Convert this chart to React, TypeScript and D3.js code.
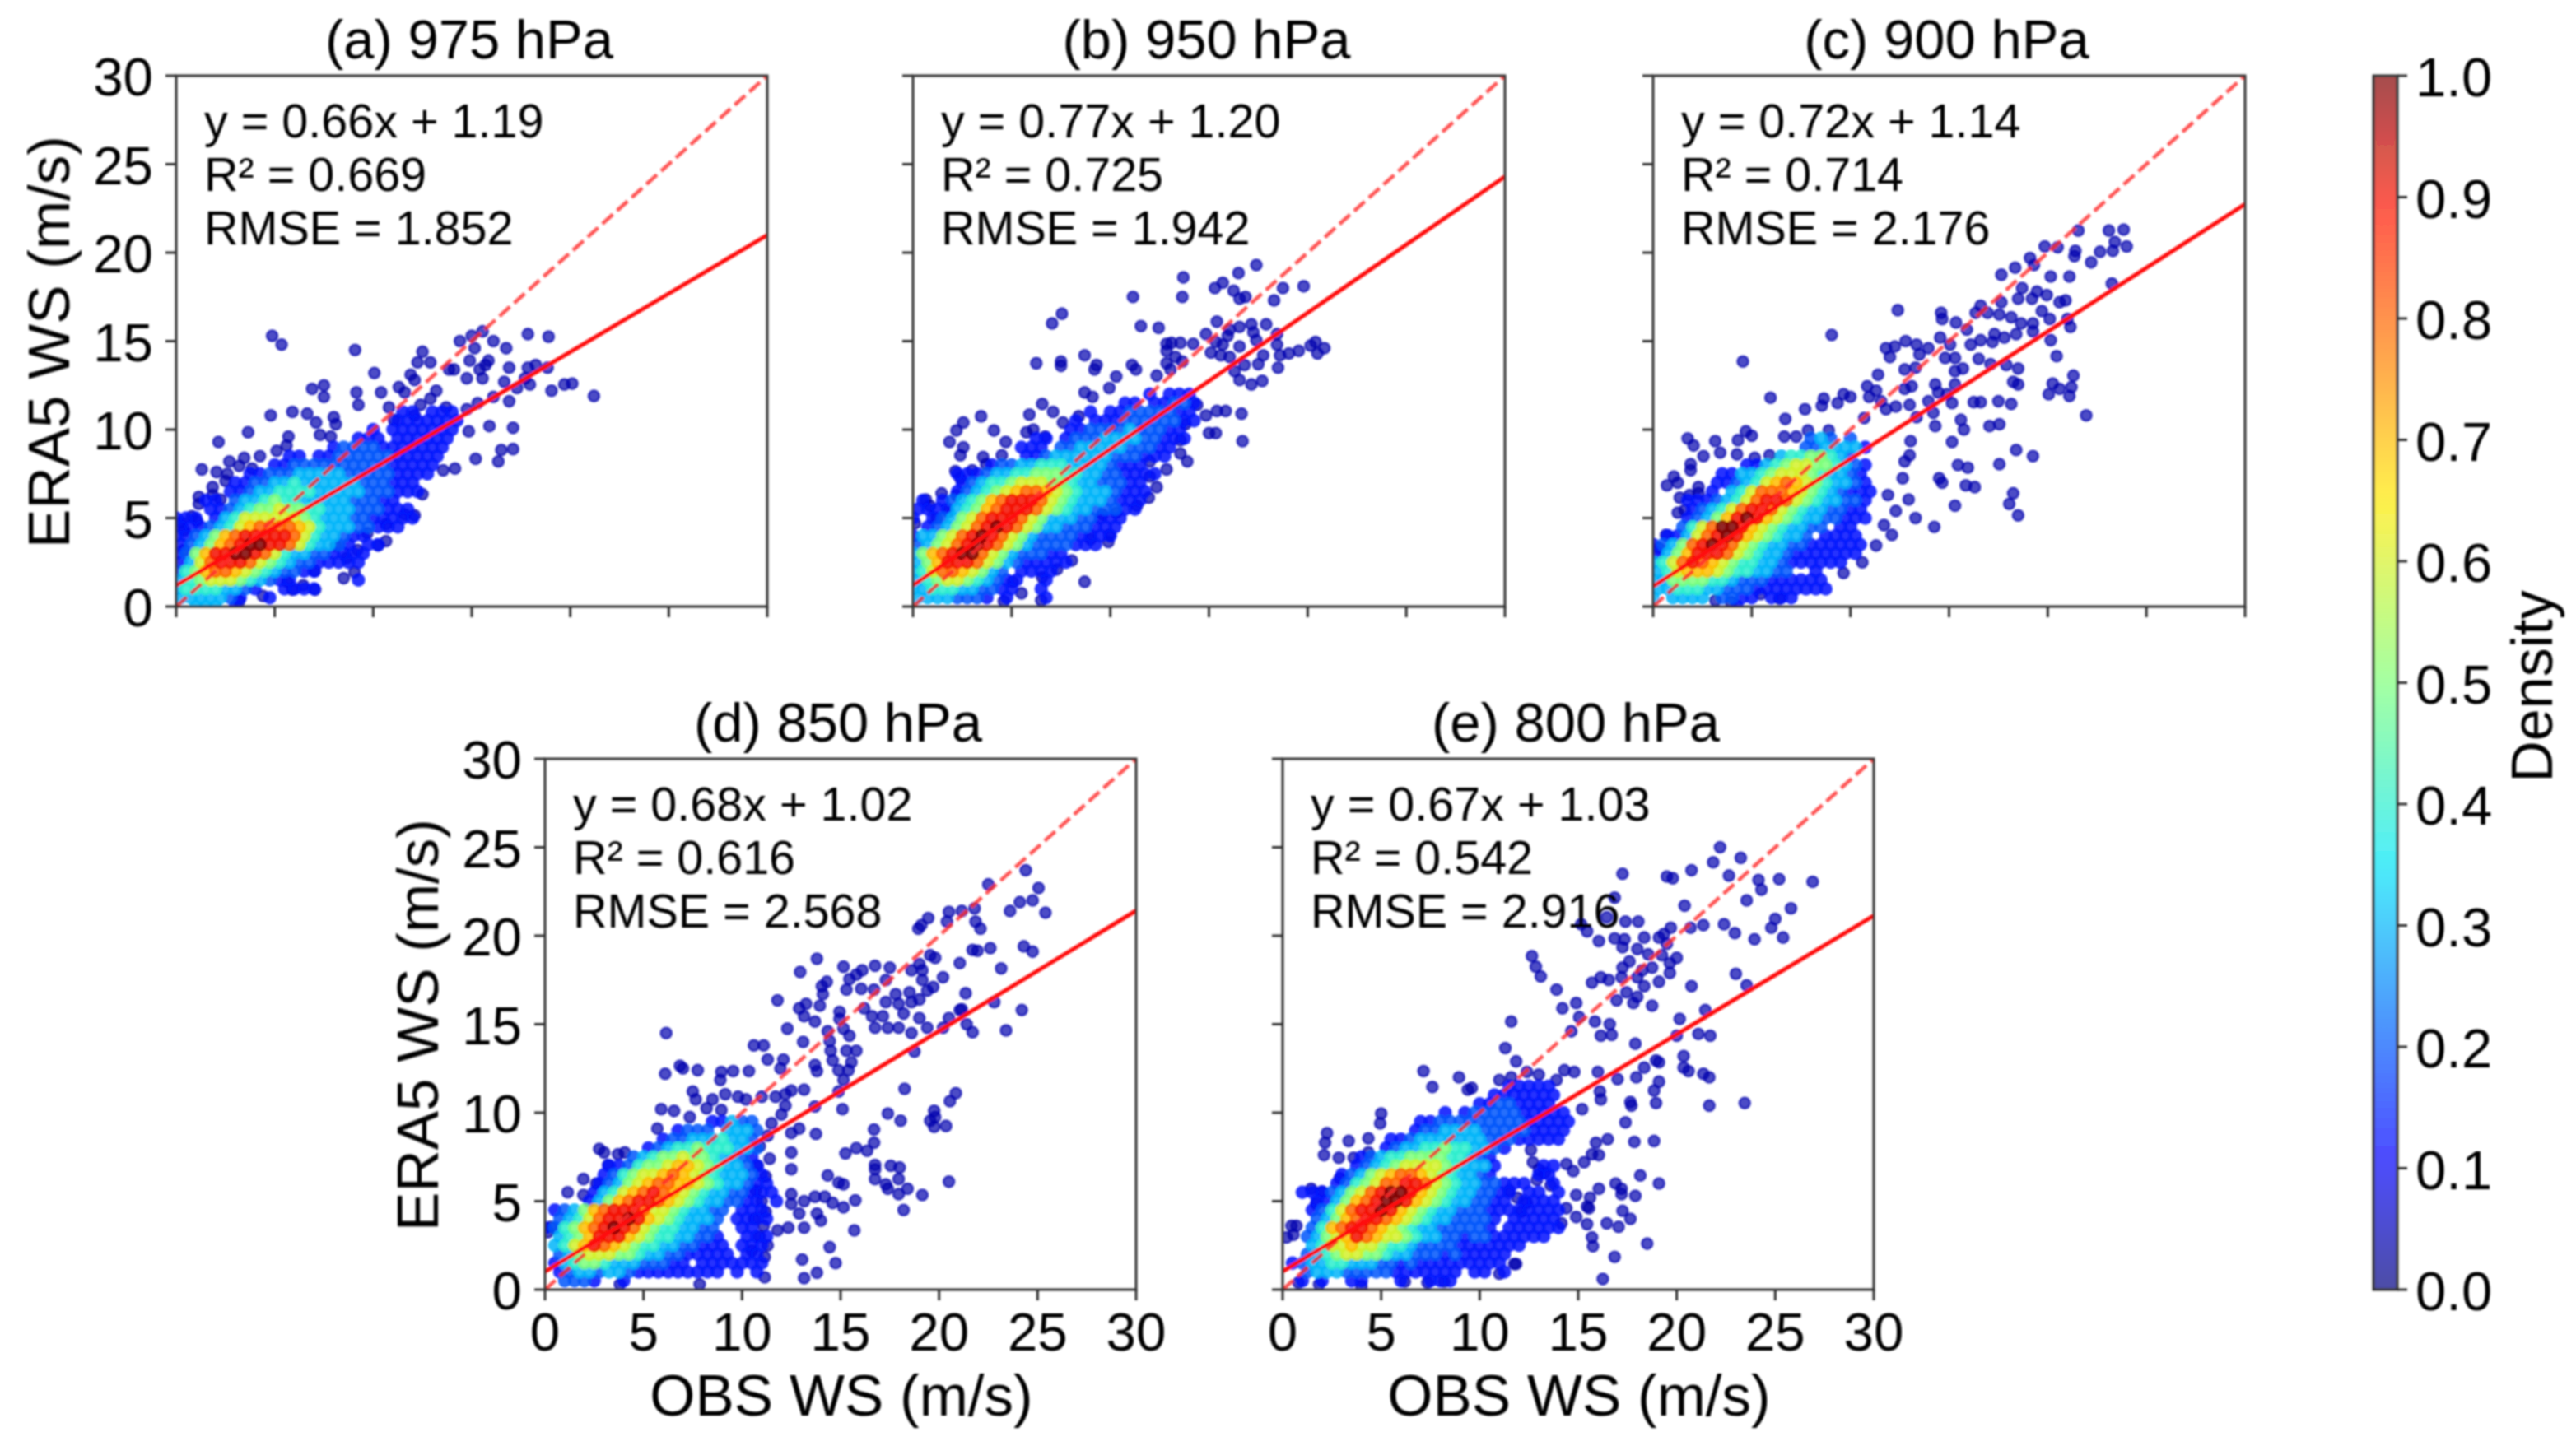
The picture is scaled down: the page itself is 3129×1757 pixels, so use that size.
import React from "react";
import * as d3 from "d3";

// Panel values
const panelLabels = ["(a) 975 hPa", "(b) 950 hPa", "(c) 900 hPa", "(d) 850 hPa", "(e) 800 hPa"];
const slopes = [0.66, 0.77, 0.72, 0.68, 0.67];
const intercepts = [1.19, 1.2, 1.14, 1.02, 1.03];
const r2Labels = ["0.669", "0.725", "0.714", "0.616", "0.542"];
const rmseLabels = ["1.852", "1.942", "2.176", "2.568", "2.916"];
const axisTicks = [0, 5, 10, 15, 20, 25, 30];
const densityTicks = [0, 0.1, 0.2, 0.3, 0.4, 0.5, 0.6, 0.7, 0.8, 0.9, 1];

// Scattered outliers, [obs, era5]
const sparseA = [[4.87,15.3],[5.35,14.8],[9.08,14.5],[10.06,13.2],[6.9,12.3],[7.5,12.5],[7.5,11.85],[9.15,12.1],[9.25,11.4],[10.4,12.1],[4.8,10.8],[5.9,11],[6.65,10.9],[7.1,10.4],[8,10.7],[8.1,10.3],[3.65,9.85],[2.15,9.3],[7.3,9.7],[7.85,9.6],[5.7,9.6],[5.1,8.8],[5.6,9.1],[3.45,8.4],[2.7,8.2],[4.25,8.5],[1.3,7.75],[2.05,7.6],[2.6,7.5],[3.2,7.95],[3.85,7.8],[1.85,6.75],[2.5,7.1],[1.15,6.2],[1.15,5.8],[1.85,6.3],[2.25,6.05],[0.25,4.75],[0.8,5.1],[1.05,4.85],[0.4,4.3],[0.4,3.2],[8.5,1.6],[9.05,1.95],[7.05,0.95],[6.45,1.2],[5.9,0.95],[4.4,0.6],[3.2,0.3],[5.65,1.4],[7.05,2],[8.1,3.45],[8.65,2.75],[9.2,3.2],[10.65,3.7],[10.25,3.45],[9.7,4.15],[12.1,5.15],[11.6,5.2],[10.65,4.65],[12.5,6.35],[13.55,7.7],[14.15,7.8],[15.2,8.35],[16.35,8.2],[16.5,8.85],[17.1,8.9],[14.85,9.9],[15.9,10.2],[17.1,10.1],[16.9,11.6],[19.05,12.2],[19.7,12.55],[20.1,12.6],[21.2,11.9],[18.85,13.5],[18.25,13.65],[17.85,15.4],[18.9,15.25],[16.1,15],[16.75,14.6],[15.55,15.55],[15,15.3],[14.4,15],[15.15,14.6],[12.5,14.4],[12.25,13.8],[12.9,13.8],[14.9,13.9],[15.85,13.9],[13.85,13.4],[14.1,13.4],[11.9,13.1],[12.1,12.8],[11.3,12.4],[11.6,12.1],[14.75,12.9],[15.4,13.4],[15.55,12.9],[15.7,13.65],[16.9,13.5],[17.85,13.5],[17.7,12.9],[17.95,12.55],[17.3,12.35],[16.65,12.7],[16.1,11.85],[15.3,11.5],[14.75,11.15],[13.7,11.25],[13.2,12.2],[12.9,11.75],[12.4,11.4],[10.8,11.25],[11.05,10.55],[12.1,10.8]];
const sparseB = [[17.4,19.3],[16.5,18.85],[13.7,18.6],[15.7,18.3],[15.3,18],[16.25,17.85],[18.75,18],[19.8,18.1],[11.15,17.5],[13.65,17.5],[16.55,17.4],[16.85,17.5],[18.3,17.3],[7.55,16.55],[7.05,16],[11.55,15.85],[12.45,15.75],[15.4,16.1],[16.55,15.8],[17.15,15.95],[17.9,15.95],[16.05,15.65],[14.85,15.4],[12.85,14.85],[13.1,14.9],[13.55,14.9],[14.2,14.85],[12.85,14.45],[13.3,14.1],[13.65,13.85],[12.85,13.75],[13.05,13.4],[15.35,14.95],[15.7,14.8],[15.95,15.3],[15.1,14.35],[15.6,14.2],[16.55,14.7],[17.25,15.5],[17.4,15.05],[18.45,15.4],[18.45,14.8],[18.6,14.2],[19.05,14.3],[19.55,14.45],[20.15,14.75],[20.4,14.95],[20.5,14.3],[20.85,14.6],[16.05,14.1],[17.75,14.2],[17.5,13.7],[18.5,13.5],[16.8,13.65],[16.3,13.3],[16.55,12.8],[17.15,12.55],[17.7,12.75],[6.25,13.75],[7.5,13.85],[7.5,13.6],[8.7,14.2],[9.2,13.4],[9.3,13.65],[10.3,13],[9.95,12.35],[11.1,13.65],[11.3,13.4],[12.35,13.05],[8.7,12.1],[9.1,11.85],[6.55,11.45],[7.1,11],[5.9,10.85],[3.45,10.75],[2.55,10.4],[2.2,9.95],[4.1,9.95],[1.85,9.3],[2.55,9],[4.7,9.3],[2.4,8.55],[5.75,9.85],[6.1,10],[6.7,9.6],[7.6,10.4],[8.4,10.75],[4.5,8.55],[3.55,8.45],[3.7,8.05],[2.15,7.65],[3,7.7],[2.4,7.25],[1.45,6.4],[2.2,6.3],[0.65,6.05],[0.85,5.7],[0.1,4.7],[1.2,5],[1.8,5.35],[16.65,10.9],[16.7,9.35],[15.85,11.05],[15.4,11.05],[14.85,10.8],[15,9.8],[15.35,9.8],[14.4,11.4],[13.8,10.3],[13.55,9.4],[13.55,8.65],[13.9,8.2],[12.85,7.75],[12,8.2],[12,7.35],[12.35,6.75],[11.95,6.15],[11.35,5.7],[10.3,5.3],[9.6,5.2],[9.95,4.05],[9.9,3.65],[9,3.8],[8.7,1.4],[8.05,2.6],[7.3,2.1],[6.55,1.65],[6.5,0.35],[5.5,0.75],[4.6,0.3],[5.05,1.4]];
const sparseC = [[21.55,21.25],[23.1,21.25],[23.85,21.3],[23.4,20.6],[24,20.35],[22.65,20.05],[23.3,20.1],[22.2,19.45],[21.4,20.1],[21.35,19.8],[19.85,20.35],[20.5,20.3],[19.1,19.7],[19.3,19.3],[18.35,19.15],[17.65,18.75],[20.15,18.65],[21.1,18.65],[23.25,18.25],[18.7,18],[19.45,17.8],[19.95,17.6],[19.2,17.4],[20.9,17.3],[20.6,17.2],[17.65,17.2],[18.5,17.4],[16.6,17],[12.4,16.75],[14.6,16.6],[14.65,16.25],[16.35,16.6],[16.95,16.6],[17.55,16.5],[18.15,16.35],[19.7,16.7],[20.1,16.25],[21,16.25],[21.15,15.8],[19.25,16],[18.65,16],[15.35,16.05],[15.9,15.65],[9.05,15.35],[4.55,13.85],[12.8,15],[14.55,15.2],[15.05,14.8],[16.1,14.8],[16.6,15.05],[17.3,15.4],[17.2,14.95],[17.8,15.2],[18.4,15.4],[19.25,15.55],[20.15,15.05],[20.45,14.15],[11.8,14.6],[12.25,14.7],[12,14.1],[13.35,14.8],[13.95,14.6],[13.5,14.25],[14.8,14.05],[15.3,14.05],[16.5,14],[17.9,13.65],[18.5,13.45],[17.1,13.7],[12.75,13.4],[13.3,13.5],[11.4,13.1],[15.3,13.3],[15.7,13.45],[21.3,13.05],[18.25,12.7],[18.5,12.55],[20.25,12.6],[20.6,12.3],[21.2,12.4],[20.05,12],[21.1,11.9],[10.85,12.45],[11.3,12.2],[10.95,11.85],[11.55,11.6],[12.75,12.3],[13.1,12.45],[14.3,12.55],[15.3,12.55],[14.45,12.1],[14.9,12],[13.95,11.6],[15.15,11.5],[16.25,11.55],[16.6,11.55],[17.5,11.6],[18.15,11.45],[13,11.4],[9.65,12],[10,11.85],[8.65,11.75],[5.95,11.8],[9.35,11.5],[7.7,11.15],[8.55,11.35],[11.8,11.15],[12.3,11.3],[10.7,10.65],[6.7,10.6],[21.95,10.8],[13.35,10.7],[14.2,10.95],[15.6,10.55],[17.55,10.3],[17.05,10.2],[14.3,10.2],[15.75,10],[6.65,9.6],[7.25,9.6],[7.85,9.95],[8.9,9.95],[4.7,9.9],[5,9.65],[4.3,9.4],[3.15,9.35],[1.75,9.5],[2.05,9.1],[3.4,8.7],[2.55,8.5],[4.25,8.6],[5.15,8.4],[5.9,8.55],[13.05,9.35],[15.15,9.3],[18.4,8.85],[19.25,8.5],[17.55,8.05],[13,8.55],[15.45,8],[15.95,7.85],[12.75,8.2],[12.65,7.25],[14.5,7.25],[14.65,7],[15.85,6.85],[16.3,6.75],[18.25,6.4],[18.05,5.8],[18.5,5.15],[15.3,5.7],[14.25,4.5],[13.3,5],[12.3,5.4],[12.95,6.05],[11.7,4.6],[12.1,4.05],[11.3,3.45],[10.6,2.5],[9.65,1.9],[11.9,6.3],[1.05,7.35],[0.7,6.85],[1.25,7],[1.9,8.05],[1.9,7.7],[2.3,6.75],[2.3,6.4],[1.35,6.15],[1.85,6.3],[1.25,5.3],[1.6,5.45],[0.65,4.05],[0.3,3.3],[3.95,0.25],[3.15,0.35],[6.4,0.45],[5.45,0.7]];
const sparseD = [[24.4,23.7],[22.5,22.9],[25.05,22.7],[24.1,21.9],[24.75,22],[25.4,21.3],[23.6,21.4],[21.8,21.55],[21.15,21.4],[20.5,21.35],[20.4,20.8],[19.45,21],[19.1,20.6],[18.95,20.4],[21.85,20.8],[22.1,20.4],[24.3,19.4],[24.75,19.1],[22.6,19.3],[21.7,19.2],[21.95,19.15],[21.05,18.45],[23.15,18.15],[19.8,18.75],[19.55,18.9],[19,18.4],[18.6,18.05],[19.15,18.05],[20.2,17.65],[19.15,17.5],[19.7,17.1],[19.4,16.9],[21.35,16.75],[13.8,18.7],[12.95,17.95],[15.15,18.25],[16.1,18.05],[16.75,18.3],[17.5,18.2],[15.8,17.8],[15.45,17.55],[14.3,17.4],[14.05,17.15],[15.3,16.95],[16.05,17],[16.7,16.95],[17.3,17.5],[11.8,16.35],[14.1,16.7],[13.95,16.05],[17.8,16.7],[18.5,16.8],[17.95,16.15],[18.6,16.25],[19,16.4],[17.3,16.25],[18.2,15.6],[19,15.35],[20.5,15.35],[21.05,15.8],[21.15,15.85],[22.8,16.25],[24.2,15.8],[23.4,14.65],[21.4,15],[21.7,14.55],[12.9,15.9],[13.25,16.15],[13.15,15.45],[13.7,15.15],[12.3,14.75],[14.95,15.7],[14.95,15.3],[16.2,15.9],[16.6,15.45],[17.15,15.45],[16.75,14.8],[17.4,14.8],[17.95,14.8],[18.6,14.5],[19.4,14.8],[20.2,14.8],[14.35,14.6],[15.15,14.75],[15.45,14.35],[6.15,14.5],[10.6,13.8],[11.1,13.8],[13.1,14],[14.45,14.05],[14.5,13.5],[15.3,13.5],[15.8,13.5],[18.75,13.45],[11.3,13],[12.1,13],[14.6,12.95],[15.55,12.85],[13.7,12.7],[13.8,12.35],[11.95,12.5],[14.9,12.4],[15.4,12.4],[15.15,11.85],[6.1,12.2],[6.85,12.65],[7,12.5],[7.75,12.4],[8.95,12.3],[9.55,12.35],[10.35,12.35],[8.9,11.85],[18.25,11.35],[7.5,11.2],[7.65,10.75],[8.5,10.75],[9.15,11.05],[9.8,10.9],[10.2,10.75],[11,10.9],[11.7,10.9],[12.2,11.05],[12.5,11.25],[13.15,11.3],[13.7,10.35],[14.9,11.2],[20.85,11.1],[20.55,10.65],[15.1,10.2],[17.4,9.95],[18.05,9.55],[5.9,10.2],[6.55,10.1],[7.35,9.75],[8.2,10.25],[8.95,10.15],[5.7,9.1],[12.9,9.1],[13.75,8.8],[12.5,8.85],[16.7,9.05],[19.75,10.1],[19.8,9.75],[19.55,9.55],[19.75,9.2],[20.35,9.25],[2.75,7.95],[3,7.75],[3.7,7.65],[4.05,7.75],[3.2,7.05],[1.95,6.25],[2.6,6],[1.15,5.5],[1.95,5.35],[0.3,3.55],[0.15,3.25],[20.5,6.1],[19.15,5.35],[18.4,5.7],[17.95,5.4],[18.2,4.5],[17.95,6.25],[18,6.9],[17.55,7],[16.75,7.05],[16.75,6.8],[16.75,6.25],[17.3,5.95],[17.4,5.7],[16.7,8.3],[15.8,8],[16.35,7.85],[15.25,7.7],[14.35,6.45],[14.9,6.05],[15.15,5.95],[15.75,5.05],[15.7,3.35],[15.15,4.65],[14.6,4.9],[14.2,5.25],[13.7,5.25],[13.15,5],[13.8,4.3],[14,3.9],[14.45,2.4],[14.75,1.5],[13.05,1.7],[13.8,0.95],[13.15,0.65],[12.5,7.75],[12.5,6.8],[12.5,5.4],[12.5,4.85],[11.8,3.35],[12.35,3.5],[13.15,3.5],[12.9,4.3],[11.15,0.7],[11.15,1.85],[7.85,0.3],[3.8,0.3],[10.7,5.6],[11,5],[11.2,4.4],[10.6,4],[11.1,3.6],[10.9,3],[11.3,2.5],[10.5,2.2],[10.8,7],[11.2,6.4],[11.4,7.4],[10.9,8.1],[11.3,8.7],[11.5,9.4],[12,9.9],[12.2,10.4]];
const sparseE = [[22.2,25],[23.25,24.4],[21.85,24.15],[20.75,23.7],[17.25,23.5],[19.5,23.35],[19.8,23.25],[22.65,23.4],[24.15,23.15],[25.2,23.2],[26.9,23.05],[24.3,22.6],[23.55,22],[16.85,22.15],[20.4,21.7],[25.8,21.55],[16.45,21.05],[25,20.95],[15.15,20.65],[17.4,20.8],[18.05,20.8],[20.7,20.45],[21.35,20.6],[22.4,20.65],[19.7,20.45],[24.8,20.45],[22.95,20.15],[23.95,19.8],[25.4,19.9],[15.45,20.25],[16.05,19.7],[16.85,19.85],[17.35,19.8],[17.25,19.35],[18.35,19.9],[19.1,19.9],[19.35,20.1],[19.5,19.55],[18,19.25],[18.55,18.95],[19.25,18.9],[20,18.75],[19.65,18.45],[17.6,18.55],[17.25,18.2],[12.65,18.85],[12.85,18.25],[13.1,17.7],[18.75,18.2],[18.25,18.05],[19.65,17.9],[23,17.85],[15.7,17.35],[16.15,17.65],[16.55,17.5],[17.2,17.65],[18,17.65],[19.1,17.4],[18.35,17.15],[20.75,17.15],[23.55,17.2],[13.9,16.95],[17.45,16.8],[18,16.55],[16.95,16.35],[17.8,16.2],[18.75,16.05],[14.2,15.9],[14.9,16.2],[21.45,15.8],[15.05,15.4],[11.6,15.15],[15.85,15.15],[16.6,15],[20.15,15.3],[14.65,14.6],[16.15,14.35],[16.7,14.4],[20,14.35],[21.1,14.45],[21.7,14.35],[11.3,13.65],[17.9,13.9],[20.35,13.2],[18.95,12.95],[19.1,12.85],[11.85,12.9],[7.15,12.35],[8.95,12],[18.35,12.55],[20.35,12.55],[20.6,12.35],[21.35,12.2],[21.65,12],[16,12.3],[17,11.9],[17.95,12],[19.1,11.75],[7.6,11.45],[9.4,11.3],[9.6,11.4],[12.4,12.3],[13,12.15],[14.3,12.4],[14.8,12.3],[13.9,11.85],[11,11.85],[11.6,12],[16.1,11.2],[16.15,10.75],[18.85,11.25],[17.65,10.6],[17.7,10.4],[18.95,10.55],[21.65,10.4],[23.45,10.55],[15.2,10.2],[17.4,9.45],[5,9.95],[4.95,9.4],[2.25,8.85],[2.15,8.3],[3.35,8.4],[4.35,8.55],[2.1,7.6],[2.85,7.45],[3.6,7.45],[4.35,7.75],[16.5,8.5],[15.9,8.3],[17.85,8.35],[18.85,8.4],[16.05,7.6],[15.7,7.65],[15.3,7.2],[14.4,7.1],[14.75,6.7],[18.15,6.45],[19.1,6],[16.9,6],[17.2,5.7],[16.05,5.7],[17.2,5.4],[17.9,5.3],[14.9,5.35],[15.6,5.2],[15.45,4.7],[15.55,4.6],[14.4,4.6],[17.25,4.45],[14.9,4.1],[17.65,4],[16.45,3.75],[17.05,3.55],[15.45,3.7],[14.15,3.75],[15.7,2.95],[15.75,2.45],[18.5,2.6],[16.85,1.85],[16.25,0.6],[1.45,5.7],[2,5.55],[2.9,6.3],[0.45,3.6],[0.7,3.6],[0.2,2.95],[0.55,3.1],[1.7,4.85],[11.75,1.45],[11,0.9],[11.85,1.45],[6.2,0.45],[4,0.2],[1.85,0.3],[0.8,0.4],[7.35,0.4],[8.2,0.45],[12.6,7.9],[12.7,7.2],[13,6.8],[12.9,6.2],[13.3,6.6],[13.6,5.9],[11.5,5.6],[11.9,5.2],[12.4,4.9],[12.1,4.4]];

// Dense cloud read off as tenths of density on a half m/s grid: first row is the top, last row is y = 0,
// each character steps x by 0.5 from 0 ("." empty, X = 1.0)
const cloudA = [
  ".......................11.111",
  "......................1111111",
  "....................1.1111111",
  "..................111.111111",
  "................122221111111",
  "...........11.1122222211111",
  "..........11222222222211111",
  ".......1122233333222221111",
  "......1122334333333222111",
  ".....11233444433333222111",
  "...11.23345443333322211",
  "...112345565544333222111",
  "111.134666666543332211111",
  "11123467888876433322111",
  "11235789999986433211",
  "1235789XX998643321.11",
  "125799XX986433221111",
  "1368999865432211111",
  "245788765432211",
  "345666543211......1",
  "344443321..1111",
  "3333321..1",
  "..333.1",
];
const cloudB = [
  "........................1.111",
  ".....................11.11221",
  "..................1.112222211",
  "................1.11122222211",
  "................112222322211",
  "............11.1222333322111",
  "...........111.223333322211",
  "...........112333333222111",
  "........1223344433332111",
  "....111233445554433221111",
  ".....1234456665543322211",
  "....12345678876543332111",
  ".1.123457899986543332111",
  "11113457899986543322211",
  "1.12356899986533322111",
  ".1235689X986533222111",
  "1335689X9865322221111",
  "235689X986532222111",
  "35789XX865322211",
  "3579998653211111",
  "3468876532.1111",
  "34566543211..1",
  "33444332211..1",
  "33332221.1...1",
  "",
];
const cloudC = [
  "................232.2",
  "...............2233331",
  ".............34455432",
  ".........1134566554321",
  ".......113345666543321",
  "......1123467876543321",
  "......1.346888765432111",
  "...1112346899865433221",
  "....123468998654332211",
  "...123579X976543322111",
  "...2468XX976543322.11",
  ".113689X97654332.1111",
  "123589X986543322111111",
  "135799986543321111111",
  "34689876544332111111",
  "34677765443322..1",
  "335555443222111111",
  "334443322211111111",
  "3.3333.2211.111",
  "........1",
];
const cloudD = [
  ".................11322",
  ".............1222.3332",
  "............1223334332",
  "..........123445444332",
  ".........2345565543321",
  "......1124556776543321",
  "......12456678765433321",
  ".....123567887765433211",
  ".....1346789876543322111",
  "....135789987654332211.1",
  ".123578999866543322.111",
  ".2346899X976543332.1111",
  "1245789X9865443322..11",
  ".34579997654433221..111",
  ".346798765443322111.111",
  ".235666554332211111.11",
  ".13455433322211.1111111",
  ".12332332111111111.1.1",
  "..2221..1",
  "",
];
const cloudE = [
  ".......................11111",
  ".....................1111111",
  "....................11221111",
  "................1.12222211111",
  "..............1122222222211111",
  ".............1223333222221111",
  "...........112333333322211111",
  "..........1233445443321",
  "........12344555544321",
  ".......123456666543331....11",
  "......1235678876543321....11",
  ".....12456889986543322111..1",
  "..111235689XX97654332211.11.1",
  "...1135789XX97654332211.1111",
  "...1246899X976543322211111111",
  "...2357899876543322221.11111",
  "...2478998765433222221.111111",
  "..2356798766543322122111111",
  "...3466766544322221111111",
  "..234566554332221211111",
  ".1233443332212111111111",
  "..2333222221111111.11.1",
  "..1.1..11...1..111",
  "",
];

const sparseSets = [sparseA, sparseB, sparseC, sparseD, sparseE];
const cloudSets = [cloudA, cloudB, cloudC, cloudD, cloudE];

// jet
const jet = d3.scaleLinear<string>()
  .domain([0, 0.11, 0.35, 0.5, 0.65, 0.89, 1])
  .range(["#00007f", "#0000ff", "#00e5f7", "#7dff7a", "#ffea00", "#ff1300", "#7f0000"])
  .interpolate(d3.interpolateRgb)
  .clamp(true);

const width = 3129;
const height = 1757;
const font = "'Liberation Sans', Arial, sans-serif";
const ink = "#000";
const spine = "#333";

// plot boxes for each panel
const boxes = [
  { left: 214, top: 92, right: 932, bottom: 737, xLabels: false, yLabels: true },
  { left: 1109, top: 92, right: 1828, bottom: 737, xLabels: false, yLabels: false },
  { left: 2008, top: 92, right: 2727, bottom: 737, xLabels: false, yLabels: false },
  { left: 662, top: 922, right: 1380, bottom: 1567, xLabels: true, yLabels: true },
  { left: 1558, top: 922, right: 2276, bottom: 1567, xLabels: true, yLabels: false },
];

function cloudPoints(rows: string[]) {
  const out: { x: number; y: number; d: number; cloud: boolean }[] = [];
  rows.forEach((row, i) => {
    const y = (rows.length - 1 - i) * 0.5;
    row.split("").forEach((c, j) => {
      if (c === ".") return;
      // every other row sits a quarter step over so the cells pack like the real cloud
      out.push({ x: j * 0.5 + (i % 2) * 0.25, y, d: c === "X" ? 1 : +c === 1 ? 0.13 : +c / 10, cloud: true });
    });
  });
  return out;
}

const Panel: React.FC<{ index: number }> = ({ index }) => {
  const box = boxes[index];
  const xScale = d3.scaleLinear().domain([0, 30]).range([box.left, box.right]);
  const yScale = d3.scaleLinear().domain([0, 30]).range([box.bottom, box.top]);
  const points = [
    ...sparseSets[index].map(([x, y]) => ({ x, y, d: 0.04, cloud: false })),
    ...cloudPoints(cloudSets[index]),
  ].sort((a, b) => a.d - b.d);
  const fit = d3.line<number>().x(d => xScale(d)).y(d => yScale(slopes[index] * d + intercepts[index]));
  const oneToOne = d3.line<number>().x(d => xScale(d)).y(d => yScale(d));

  return (
    <g fontFamily={font} fill={ink}>
      <clipPath id={`clip-${index}`}>
        <rect x={box.left} y={box.top} width={box.right - box.left} height={box.bottom - box.top} />
      </clipPath>
      <g clipPath={`url(#clip-${index})`}>
        {points.map((p, i) => (
          <circle
            key={i}
            cx={xScale(p.x)}
            cy={yScale(p.y)}
            r={p.cloud ? 8.2 : 6.6}
            fill={jet(p.d)}
            fillOpacity={p.cloud ? 0.85 : 0.7}
            stroke={p.cloud ? "none" : jet(p.d)}
            strokeOpacity={0.7}
            strokeWidth={2.4}
          />
        ))}
        <path d={oneToOne([0, 30])!} fill="none" stroke="#ff2a2a" strokeOpacity={0.8} strokeWidth={4.5} strokeDasharray="17 7" />
        <path d={fit([0, 30])!} fill="none" stroke="#ff1010" strokeWidth={5} />
      </g>
      <rect x={box.left} y={box.top} width={box.right - box.left} height={box.bottom - box.top} fill="none" stroke={spine} strokeWidth={3} />
      {axisTicks.map(t => (
        <g key={t}>
          <line x1={xScale(t)} x2={xScale(t)} y1={box.bottom} y2={box.bottom + 13} stroke={spine} strokeWidth={3} />
          <line x1={box.left - 13} x2={box.left} y1={yScale(t)} y2={yScale(t)} stroke={spine} strokeWidth={3} />
          {box.xLabels && (
            <text x={xScale(t)} y={box.bottom + 74} textAnchor="middle" fontSize={65.5}>{t}</text>
          )}
          {box.yLabels && (
            <text x={box.left - 28} y={yScale(t) + 24} textAnchor="end" fontSize={65.5}>{t}</text>
          )}
        </g>
      ))}
      <text x={(box.left + box.right) / 2 - 3} y={box.top - 21} textAnchor="middle" fontSize={67}>{panelLabels[index]}</text>
      <g fontSize={57.5}>
        <text x={box.left + 34} y={box.top + 75}>{`y = ${slopes[index].toFixed(2)}x + ${intercepts[index].toFixed(2)}`}</text>
        <text x={box.left + 34} y={box.top + 140}>{`R² = ${r2Labels[index]}`}</text>
        <text x={box.left + 34} y={box.top + 205}>{`RMSE = ${rmseLabels[index]}`}</text>
      </g>
      {box.yLabels && (
        <text
          transform={`translate(${box.left - 130},${(box.top + box.bottom) / 2 + 1}) rotate(-90)`}
          textAnchor="middle"
          fontSize={71}
        >
          ERA5 WS (m/s)
        </text>
      )}
      {box.xLabels && (
        <text x={(box.left + box.right) / 2 + 1} y={box.bottom + 153} textAnchor="middle" fontSize={71}>OBS WS (m/s)</text>
      )}
    </g>
  );
};

const App: React.FC = () => {
  const barScale = d3.scaleLinear().domain([0, 1]).range([1567, 92]);
  const stops = d3.range(0, 1.001, 0.02);
  return (
    <svg width={width} height={height} style={{ position: "absolute", left: 0, top: 0, display: "block", background: "#fff" }}>
      <defs>
        <filter id="soft" x="0" y="0" width={width} height={height} filterUnits="userSpaceOnUse">
          <feGaussianBlur stdDeviation={0.9} />
        </filter>
        <linearGradient id="bar" x1="0" y1="1" x2="0" y2="0">
          {stops.map(s => (
            <stop key={s} offset={s} stopColor={jet(s)} stopOpacity={0.7} />
          ))}
        </linearGradient>
      </defs>
      <g filter="url(#soft)">
        {boxes.map((_, i) => <Panel key={i} index={i} />)}
        <g fontFamily={font} fill={ink}>
          <rect x={2883} y={92} width={29} height={1475} fill="url(#bar)" stroke={spine} strokeWidth={3} />
          {densityTicks.map(t => (
            <g key={t}>
              <line x1={2912} x2={2924} y1={barScale(t)} y2={barScale(t)} stroke={spine} strokeWidth={3} />
              <text x={2934} y={barScale(t) + 25} fontSize={67}>{t.toFixed(1)}</text>
            </g>
          ))}
          <text transform={`translate(3100,834) rotate(-90)`} textAnchor="middle" fontSize={70}>Density</text>
        </g>
      </g>
    </svg>
  );
};

export default App;
